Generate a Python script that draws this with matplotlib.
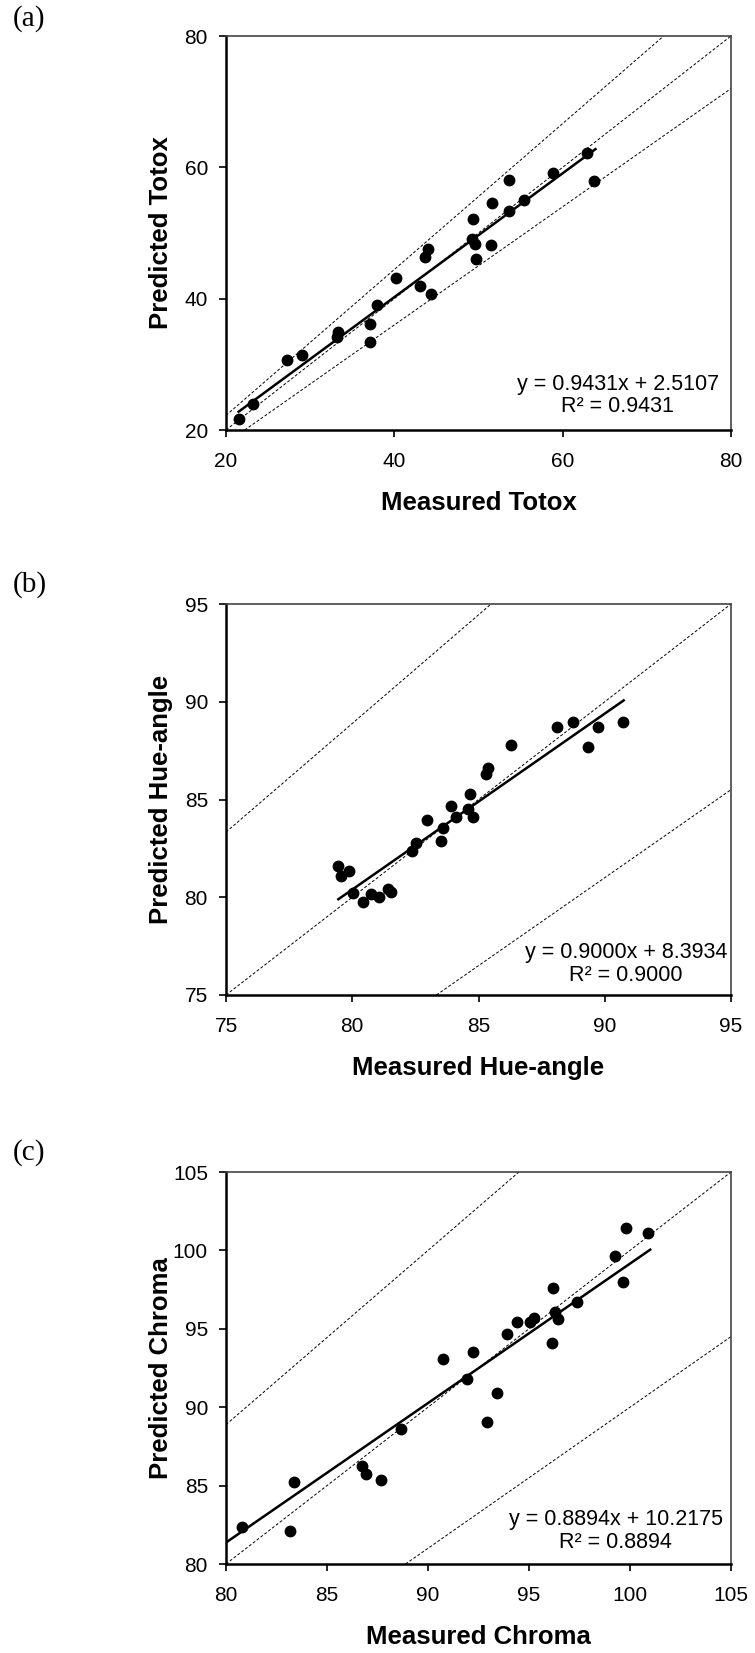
import numpy as np
import matplotlib
matplotlib.use("Agg")
import matplotlib.pyplot as plt

plt.rcParams['font.family'] = ['Liberation Sans', 'DejaVu Sans']

# (a) Totox
totox_measured = [21.5, 23.2, 27.3, 29.0, 33.3, 33.2, 37.1, 37.1, 37.9, 40.2, 43.0, 44.3, 43.7,
                  44.0, 49.3, 49.2, 49.6, 49.7, 51.5, 51.6, 53.6, 53.6, 55.4, 58.8, 62.9, 63.7]
totox_predicted = [21.6, 24.0, 30.6, 31.4, 35.0, 34.2, 33.4, 36.1, 39.0, 43.2, 41.9, 40.7, 46.3,
                   47.6, 52.1, 49.1, 48.4, 46.1, 48.2, 54.6, 53.4, 58.1, 55.1, 59.1, 62.2, 57.9]

# (b) Hue-angle
hue_measured = [79.45, 79.57, 79.88, 80.04, 80.44, 80.75, 81.05, 81.42, 81.55, 82.38, 82.51,
                82.96, 83.50, 83.61, 83.91, 84.10, 84.57, 84.65, 84.78, 85.30, 85.39, 86.29,
                88.11, 88.74, 89.34, 89.72, 90.71]
hue_predicted = [81.58, 81.07, 81.36, 80.23, 79.77, 80.18, 80.00, 80.40, 80.26, 82.35, 82.79,
                 83.97, 82.90, 83.56, 84.69, 84.13, 84.50, 85.29, 84.11, 86.30, 86.62, 87.78,
                 88.72, 88.95, 87.70, 88.72, 88.95]

# (c) Chroma
chroma_measured = [80.78, 83.18, 83.38, 86.72, 86.93, 87.69, 88.68, 90.74, 91.93, 92.25, 92.93,
                   93.44, 93.92, 94.40, 95.04, 95.26, 96.12, 96.17, 96.30, 96.46, 97.36, 99.24,
                   99.64, 99.80, 100.91]
chroma_predicted = [82.34, 82.13, 85.24, 86.26, 85.75, 85.38, 88.64, 93.09, 91.77, 93.49, 89.06,
                    90.91, 94.70, 95.43, 95.43, 95.70, 94.11, 97.62, 96.06, 95.60, 96.74, 99.64,
                    97.98, 101.43, 101.09]

# trend line coefficients as printed on the chart, and the x span of each line
slopes = [0.9431, 0.9000, 0.8894]
intercepts = [2.5107, 8.3934, 10.2175]
r2_values = [0.9431, 0.9000, 0.8894]
trend_spans = [(21.5, 63.9), (79.45, 90.75), (80.0, 101.0)]

# reference lines: 1:1 and +/-10 %
ref_slopes = [1.0, 1 / 0.9, 0.9]

panel_letters = ['(a)', '(b)', '(c)']
x_labels = ['Measured Totox', 'Measured Hue-angle', 'Measured Chroma']
y_labels = ['Predicted Totox', 'Predicted Hue-angle', 'Predicted Chroma']
limits = [(20, 80), (75, 95), (80, 105)]
tick_steps = [20, 5, 5]
eq_pos = [(0.776, 0.088), (0.792, 0.080), (0.772, 0.084)]

measured = [totox_measured, hue_measured, chroma_measured]
predicted = [totox_predicted, hue_predicted, chroma_predicted]

fig = plt.figure(figsize=(7.55, 16.53), dpi=100)
W, H = 755, 1653
# axes boxes in pixels: left, top, right, bottom
boxes = [(226, 36, 731, 430), (226, 604, 731, 995), (226, 1172, 731, 1564)]
letter_y = [19, 585, 1153]

for i in range(3):
    l, t, r, b = boxes[i]
    ax = fig.add_axes([l / W, 1 - b / H, (r - l) / W, (b - t) / H])
    lo, hi = limits[i]

    for s in ref_slopes:
        ax.axline((0, 0), slope=s, color='black', lw=0.7, ls=(0, (3, 2)), zorder=1)

    xs = np.array(trend_spans[i])
    ax.plot(xs, slopes[i] * xs + intercepts[i], color='black', lw=1.8, zorder=2)
    ax.plot(measured[i], predicted[i], 'o', color='black', ms=7.5, zorder=3)

    ax.set_xlim(lo, hi)
    ax.set_ylim(lo, hi)
    ticks = np.arange(lo, hi + 0.1, tick_steps[i])
    ax.set_xticks(ticks)
    ax.set_yticks(ticks)

    for side in ['left', 'bottom']:
        ax.spines[side].set_linewidth(1.8)
        ax.spines[side].set_color('black')
    for side in ['top', 'right']:
        ax.spines[side].set_linewidth(1.2)
        ax.spines[side].set_color('#444444')

    ax.tick_params(direction='out', length=5, width=1.2, labelsize=15)
    ax.tick_params(axis='x', pad=11)
    ax.tick_params(axis='y', pad=8)

    ax.set_xlabel(x_labels[i], fontsize=18.5, fontweight='bold')
    ax.set_ylabel(y_labels[i], fontsize=18.5, fontweight='bold')
    ax.xaxis.set_label_coords(0.5, -0.155)
    ax.yaxis.set_label_coords(-0.105, 0.5)

    eq = f"y = {slopes[i]:.4f}x + {intercepts[i]:.4f}\nR² = {r2_values[i]:.4f}"
    ax.text(eq_pos[i][0], eq_pos[i][1], eq, transform=ax.transAxes, ha='center', va='center',
            fontsize=15.5, linespacing=1.1, multialignment='center')

    fig.text(29.5 / W, 1 - letter_y[i] / H, panel_letters[i], fontsize=21,
             family=['Liberation Serif', 'DejaVu Serif'], ha='center', va='center')

fig.savefig('out.png', dpi=100)
